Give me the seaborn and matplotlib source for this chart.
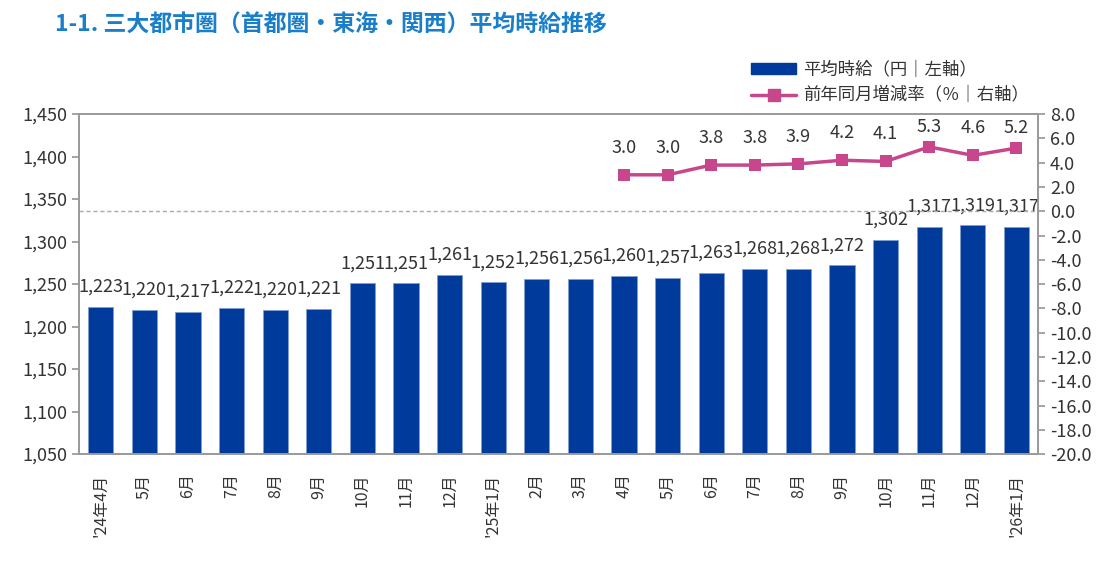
import numpy as np
import pandas as pd
import matplotlib
matplotlib.use("Agg")
import matplotlib.pyplot as plt
import seaborn as sns
from matplotlib.lines import Line2D
from matplotlib.patches import Patch
from matplotlib.ticker import FuncFormatter, FixedLocator

months = ["'24年4月", "5月", "6月", "7月", "8月", "9月", "10月", "11月", "12月",
          "'25年1月", "2月", "3月", "4月", "5月", "6月", "7月", "8月", "9月",
          "10月", "11月", "12月", "'26年1月"]
wage = [1223, 1220, 1217, 1222, 1220, 1221, 1251, 1251, 1261, 1252, 1256,
        1256, 1260, 1257, 1263, 1268, 1268, 1272, 1302, 1317, 1319, 1317]
yoy = [np.nan] * 12 + [3.0, 3.0, 3.8, 3.8, 3.9, 4.2, 4.1, 5.3, 4.6, 5.2]

BAR = "#003a9b"
LINE = "#c8468c"
TXT = "#333333"
GRID = "#999999"

sns.set_theme(style="white")
plt.rcParams['font.family'] = ['Noto Sans CJK JP', 'DejaVu Sans']

df = pd.DataFrame({"month": months, "wage": wage, "yoy": yoy, "pos": range(len(months))})

fig = plt.figure(figsize=(11.09, 5.62), dpi=100)
ax = fig.add_axes([0.0712, 0.192, 0.865, 0.605])

sns.barplot(x="pos", y="wage", data=df, color=BAR, width=0.58, ax=ax,
            edgecolor="#7f9fd0", linewidth=0.6, saturation=1)
ax.set_ylim(1050, 1450)
ax.set_xlim(-0.5, len(months) - 0.5)
ax.yaxis.set_major_locator(FixedLocator(np.arange(1050, 1451, 50)))
ax.yaxis.set_major_formatter(FuncFormatter(lambda v, p: f"{v:,.0f}"))
ax.set_xticks(range(len(months)))
ax.set_xticklabels(months, rotation=90, va="top", ha="center")
ax.set_xticks(np.arange(-0.5, len(months), 1), minor=True)
ax.tick_params(axis="x", which="major", length=0, pad=14, labelsize=11.5, colors=TXT)
ax.tick_params(axis="x", which="minor", length=5, color=GRID, direction="out")
ax.tick_params(axis="y", length=5, color=GRID, direction="out", labelsize=13, colors=TXT, left=True)
ax.set_xlabel("")
ax.set_ylabel("")
for s in ax.spines.values():
    s.set_color(GRID)
    s.set_linewidth(1.2)

for i, v in enumerate(wage):
    ax.annotate(f"{v:,}", (i, v), xytext=(0, 8), textcoords="offset points",
                ha="center", va="bottom", fontsize=13, color=TXT)

ax2 = ax.twinx()
sns.lineplot(x="pos", y="yoy", data=df, color=LINE, linewidth=2.5, marker="s",
             markersize=8, markeredgewidth=0, ax=ax2)
ax2.set_ylim(-20, 8)
ax2.yaxis.set_major_locator(FixedLocator(np.arange(-20, 8.1, 2)))
ax2.yaxis.set_major_formatter(FuncFormatter(lambda v, p: f"{v:.1f}"))
ax2.tick_params(axis="y", length=5, color=GRID, direction="out", labelsize=13, colors=TXT, right=True)
ax2.set_ylabel("")
ax2.set_xlabel("")
for s in ax2.spines.values():
    s.set_color(GRID)
    s.set_linewidth(1.2)
ax2.axhline(0, color="#aaaaaa", linestyle=(0, (3, 2)), linewidth=1)

# labels near the top edge get pulled down a bit, like the original
for i, v in enumerate(yoy):
    if not np.isnan(v):
        off = 13 if v < 5 else 8
        ax2.annotate(f"{v:.1f}", (i, v), xytext=(0, off), textcoords="offset points",
                     ha="center", va="bottom", fontsize=13, color=TXT)

handles = [Patch(facecolor=BAR, edgecolor=BAR),
           Line2D([0], [0], color=LINE, linewidth=2.5, marker="s", markersize=8)]
fig.legend(handles, ["平均時給（円｜左軸）", "前年同月増減率（％｜右軸）"],
           loc="upper right", bbox_to_anchor=(0.942, 0.92), frameon=False,
           fontsize=12.5, handlelength=2.6, handleheight=0.6, labelspacing=0.45,
           handletextpad=0.4, labelcolor=TXT)

fig.text(0.05, 0.955, "1-1. 三大都市圏（首都圏・東海・関西）平均時給推移",
         fontsize=16.5, fontweight="bold", color="#1a7fc8", va="center", ha="left")

fig.savefig("out.png", dpi=100)
